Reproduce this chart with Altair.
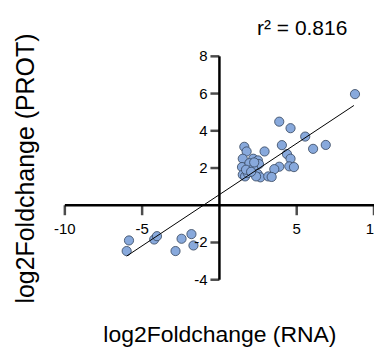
import altair as alt
import pandas as pd

# Data
rna = [8.77, 3.87, 4.60, 5.55, 4.04, 6.88, 6.06, 1.61, 1.76, 2.92, 4.37, 1.51, 2.19, 2.49,
       4.60, 2.56, 1.46, 1.94, 2.19, 3.87, 3.55, 4.52, 4.82, 1.51, 1.66, 1.83, 2.47, 2.65,
       3.16, 3.38, 2.37, 1.72, 2.25, 2.05,
       -5.85, -6.00, -4.22, -4.04, -2.45, -2.84, -1.81, -1.68]
prot = [5.97, 4.49, 4.14, 3.69, 3.23, 3.24, 3.03, 3.14, 2.89, 2.89, 2.75, 2.50, 2.50, 2.41,
        2.50, 2.21, 2.05, 2.26, 1.98, 2.07, 1.94, 2.09, 2.05, 1.64, 1.55, 1.73, 1.68, 1.50,
        1.55, 1.52, 1.55, 1.91, 2.30, 1.80,
        -1.89, -2.46, -1.84, -1.66, -1.80, -2.46, -1.55, -2.16]

fit_x = [-6.0, 8.7]
fit_y = [-2.73, 5.36]

x_ticks = [-10, -5, 5, 10]
y_ticks = [-4, -2, 2, 4, 6, 8]
x_domain = [-10, 10]
y_domain = [-4, 8]

FONT = "Liberation Sans"

pts = pd.DataFrame({"rna": rna, "prot": prot})
fit = pd.DataFrame({"rna": fit_x, "prot": fit_y})
xaxis_df = pd.DataFrame({"x": [x_domain[0]], "x2": [x_domain[1]], "y": [0]})
yaxis_df = pd.DataFrame({"x": [0], "y": [y_domain[0]], "y2": [y_domain[1]]})
xt = pd.DataFrame({"x": x_ticks, "y": [0] * len(x_ticks), "lab": [str(v) for v in x_ticks]})
yt = pd.DataFrame({"x": [0] * len(y_ticks), "y": y_ticks, "lab": [str(v) for v in y_ticks]})

xs = alt.Scale(domain=x_domain, nice=False, zero=False)
ys = alt.Scale(domain=y_domain, nice=False, zero=False)

x_axis = alt.Axis(title="log2Foldchange (RNA)", domain=False, ticks=False, labels=False, grid=False,
                  minExtent=0, titleFont=FONT, titleFontSize=23, titleFontWeight="normal",
                  titleColor="black", titlePadding=44)
y_axis = alt.Axis(title="log2Foldchange (PROT)", domain=False, ticks=False, labels=False, grid=False,
                  minExtent=0, titleFont=FONT, titleFontSize=25, titleFontWeight="normal",
                  titleColor="black", titlePadding=26)

base_pts = alt.Chart(pts).mark_circle(size=85, color="#88a9dc", opacity=1,
                                      stroke="#34445c", strokeWidth=0.8).encode(
    x=alt.X("rna:Q", scale=xs, axis=x_axis),
    y=alt.Y("prot:Q", scale=ys, axis=y_axis),
)

line = alt.Chart(fit).mark_line(color="black", strokeWidth=1).encode(
    x=alt.X("rna:Q", scale=xs), y=alt.Y("prot:Q", scale=ys))

xrule = alt.Chart(xaxis_df).mark_rule(color="black", strokeWidth=2.5).encode(
    x=alt.X("x:Q", scale=xs), x2="x2:Q", y=alt.Y("y:Q", scale=ys))
yrule = alt.Chart(yaxis_df).mark_rule(color="black", strokeWidth=2.5).encode(
    x=alt.X("x:Q", scale=xs), y=alt.Y("y:Q", scale=ys), y2="y2:Q")

xticks = alt.Chart(xt).mark_tick(color="black", thickness=2.5, size=10, orient="vertical",
                                 yOffset=5).encode(
    x=alt.X("x:Q", scale=xs), y=alt.Y("y:Q", scale=ys))
yticks = alt.Chart(yt).mark_tick(color="black", thickness=2.5, size=9, orient="horizontal",
                                 xOffset=-4.5).encode(
    x=alt.X("x:Q", scale=xs), y=alt.Y("y:Q", scale=ys))

xlabels = alt.Chart(xt).mark_text(font=FONT, fontSize=15, color="black", baseline="top",
                                  dy=17).encode(
    x=alt.X("x:Q", scale=xs), y=alt.Y("y:Q", scale=ys), text="lab:N")
ylabels = alt.Chart(yt).mark_text(font=FONT, fontSize=15, color="black", align="right",
                                  baseline="middle", dx=-12).encode(
    x=alt.X("x:Q", scale=xs), y=alt.Y("y:Q", scale=ys), text="lab:N")

chart = alt.layer(base_pts, line, xrule, yrule, xticks, yticks, xlabels, ylabels).properties(
    width=310, height=224,
    background="white",
    title=alt.TitleParams("r² = 0.816", font=FONT, fontSize=21, fontWeight="normal",
                          color="black", anchor="middle", frame="group", dx=83, dy=9, offset=3),
    autosize=alt.AutoSizeParams(type="none"),
    padding={"left": 57, "top": 48, "right": 0, "bottom": 68},
).configure_view(strokeWidth=0, stroke="transparent")

chart.save("out.html", embed_options={"renderer": "svg", "actions": False})
